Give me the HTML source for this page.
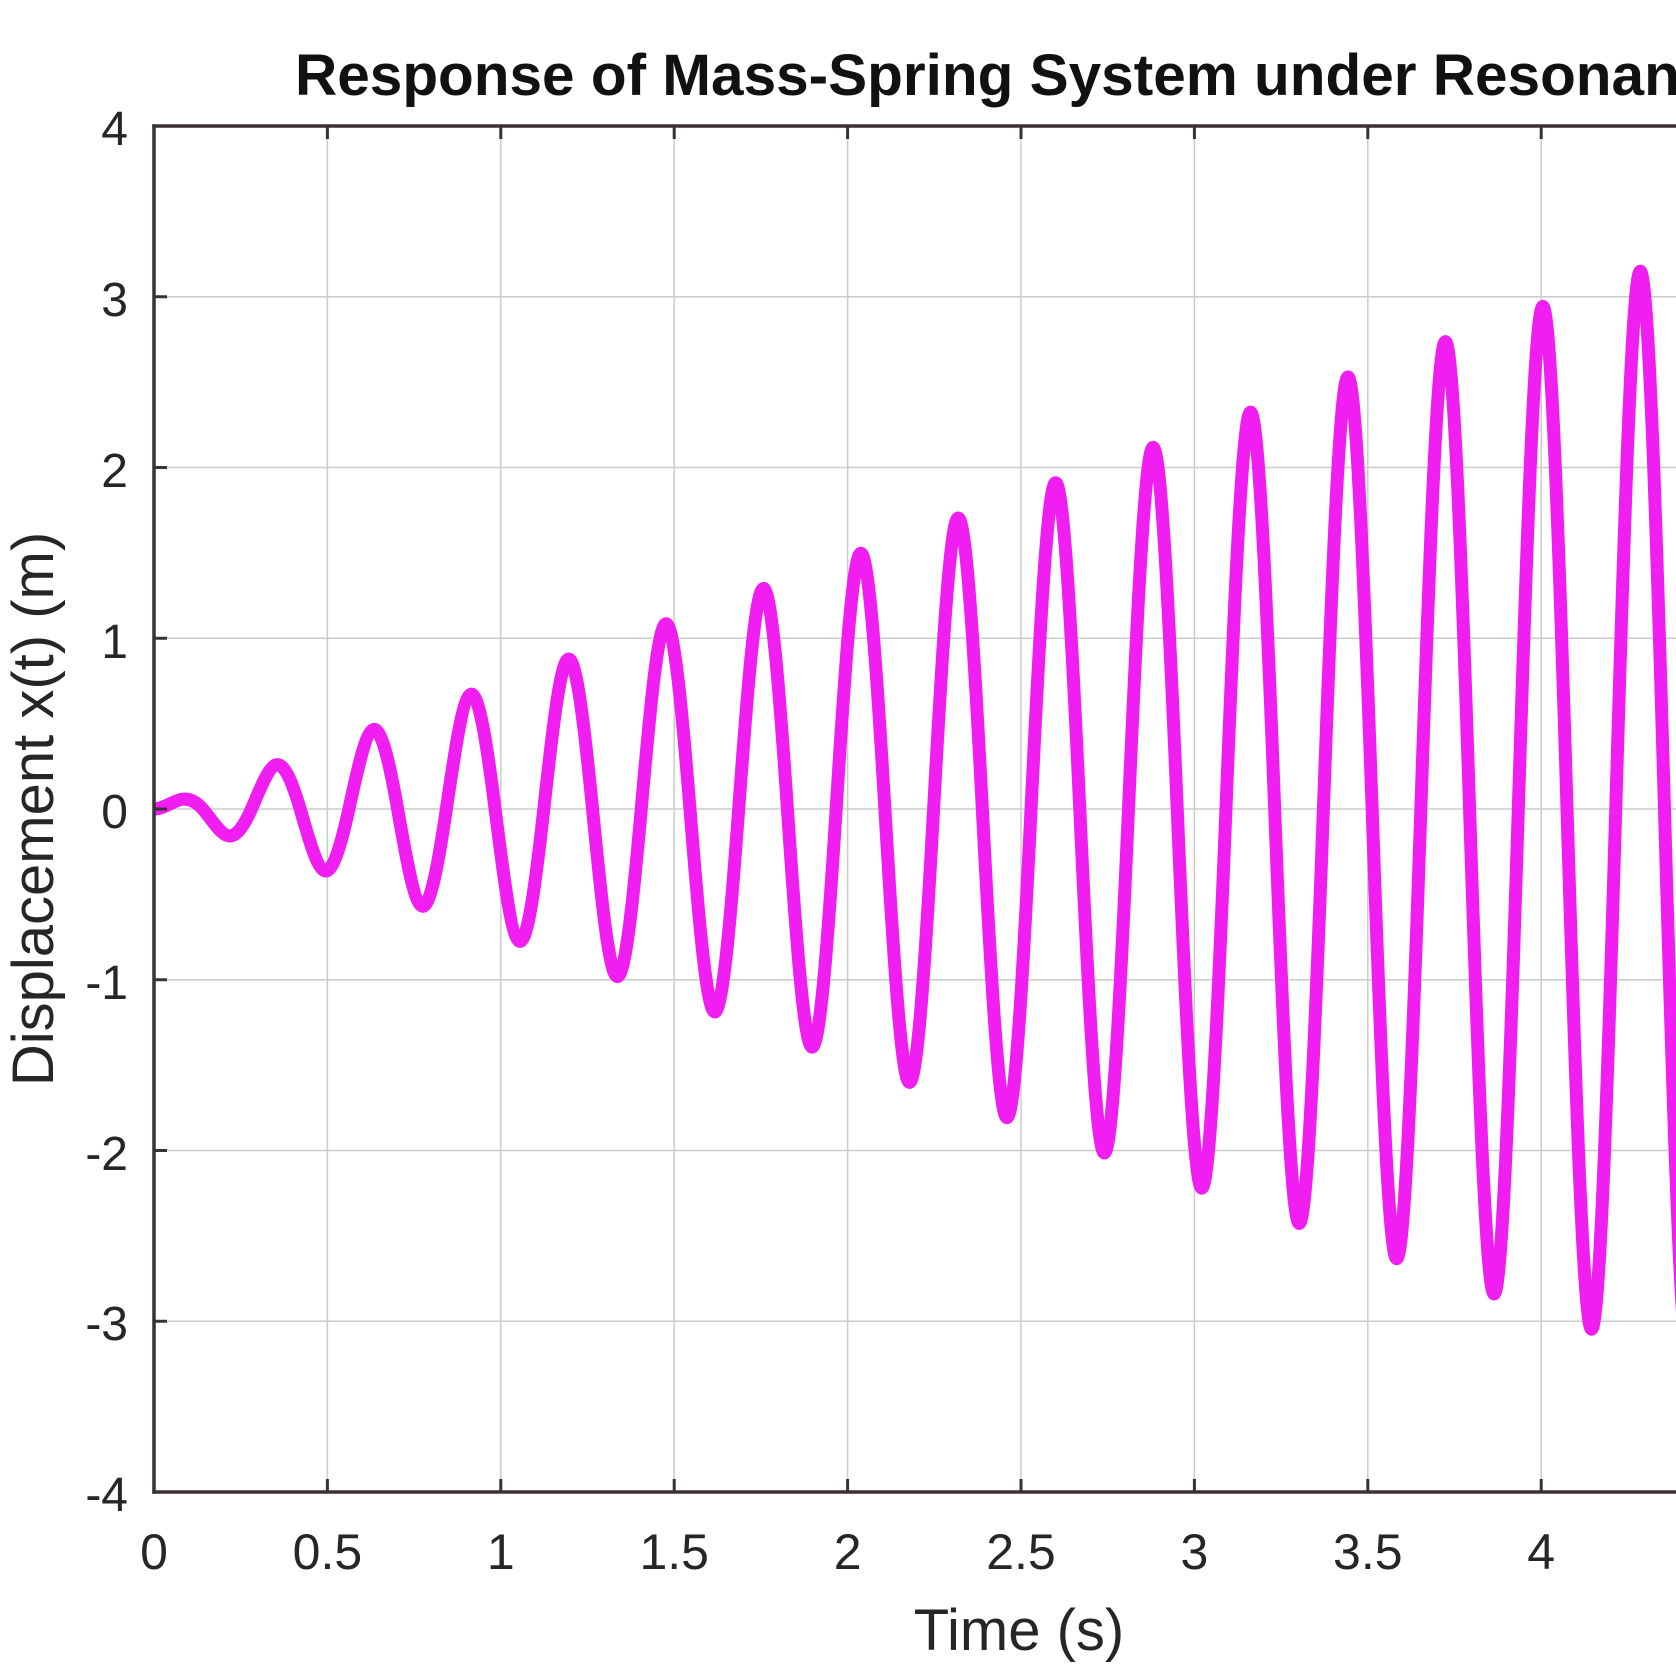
<!DOCTYPE html>
<html>
<head>
<meta charset="utf-8">
<style>
  html, body { margin: 0; padding: 0; background: #ffffff; }
  svg { display: block; }
  text { font-family: "Liberation Sans", Arial, sans-serif; }
</style>
</head>
<body>
<svg width="1676" height="1676" viewBox="0 0 1676 1676" xmlns="http://www.w3.org/2000/svg">
  <rect x="0" y="0" width="1676" height="1676" fill="#ffffff"/>

  <!-- grid -->
  <g stroke="#cbcbcb" stroke-width="1.5" fill="none">
    <line x1="327.4" y1="126" x2="327.4" y2="1492"/>
    <line x1="500.8" y1="126" x2="500.8" y2="1492"/>
    <line x1="674.2" y1="126" x2="674.2" y2="1492"/>
    <line x1="847.6" y1="126" x2="847.6" y2="1492"/>
    <line x1="1021" y1="126" x2="1021" y2="1492"/>
    <line x1="1194.4" y1="126" x2="1194.4" y2="1492"/>
    <line x1="1367.8" y1="126" x2="1367.8" y2="1492"/>
    <line x1="1541.2" y1="126" x2="1541.2" y2="1492"/>
    <line x1="154" y1="296.75" x2="1676" y2="296.75"/>
    <line x1="154" y1="467.5" x2="1676" y2="467.5"/>
    <line x1="154" y1="638.25" x2="1676" y2="638.25"/>
    <line x1="154" y1="809" x2="1676" y2="809"/>
    <line x1="154" y1="979.75" x2="1676" y2="979.75"/>
    <line x1="154" y1="1150.5" x2="1676" y2="1150.5"/>
    <line x1="154" y1="1321.25" x2="1676" y2="1321.25"/>
  </g>

  <!-- curve -->
  <path fill="none" stroke="#f01ef0" stroke-width="13" stroke-linejoin="round" stroke-linecap="butt"
    d="M154,809
c8.121,0 16.241,-5.88 24.3625,-8.82 c8.121,-2.94 16.241,-0.41 24.3625,8.82
c8.121,9.23 16.241,23.51 24.3625,26.45 c8.121,2.94 16.241,-7.98 24.3625,-26.45
c8.121,-18.47 16.241,-41.14 24.3625,-44.08 c8.121,-2.94 16.241,16.38 24.3625,44.08
c8.121,27.70 16.241,58.78 24.3625,61.72 c8.121,2.94 16.241,-24.79 24.3625,-61.72
c8.121,-36.93 16.241,-76.41 24.3625,-79.35 c8.121,-2.94 16.241,33.18 24.3625,79.35
c8.121,46.17 16.241,94.04 24.3625,96.98 c8.121,2.94 16.241,-41.58 24.3625,-96.98
c8.121,-55.40 16.241,-111.67 24.3625,-114.61 c8.121,-2.94 16.241,49.98 24.3625,114.61
c8.121,64.63 16.241,129.31 24.3625,132.25 c8.121,2.94 16.241,-58.39 24.3625,-132.25
c8.121,-73.86 16.241,-146.94 24.3625,-149.88 c8.121,-2.94 16.241,66.78 24.3625,149.88
c8.121,83.10 16.241,164.57 24.3625,167.51 c8.121,2.94 16.241,-75.18 24.3625,-167.51
c8.121,-92.33 16.241,-182.21 24.3625,-185.15 c8.121,-2.94 16.241,83.59 24.3625,185.15
c8.121,101.56 16.241,199.84 24.3625,202.78 c8.121,2.94 16.241,-91.98 24.3625,-202.78
c8.121,-110.80 16.241,-217.47 24.3625,-220.41 c8.121,-2.94 16.241,100.38 24.3625,220.41
c8.121,120.03 16.241,235.10 24.3625,238.04 c8.121,2.94 16.241,-108.78 24.3625,-238.04
c8.121,-129.26 16.241,-252.74 24.3625,-255.68 c8.121,-2.94 16.241,117.18 24.3625,255.68
c8.121,138.50 16.241,270.37 24.3625,273.31 c8.121,2.94 16.241,-125.58 24.3625,-273.31
c8.121,-147.73 16.241,-288.00 24.3625,-290.94 c8.121,-2.94 16.241,133.98 24.3625,290.94
c8.121,156.96 16.241,305.64 24.3625,308.58 c8.121,2.94 16.241,-142.39 24.3625,-308.58
c8.121,-166.19 16.241,-323.27 24.3625,-326.21 c8.121,-2.94 16.241,150.78 24.3625,326.21
c8.121,175.43 16.241,340.90 24.3625,343.84 c8.121,2.94 16.241,-159.18 24.3625,-343.84
c8.121,-184.66 16.241,-358.53 24.3625,-361.47 c8.121,-2.94 16.241,167.58 24.3625,361.47
c8.121,193.89 16.241,376.17 24.3625,379.11 c8.121,2.94 16.241,-175.98 24.3625,-379.11
c8.121,-203.13 16.241,-393.80 24.3625,-396.74 c8.121,-2.94 16.241,184.38 24.3625,396.74
c8.121,212.36 16.241,411.43 24.3625,414.37 c8.121,2.94 16.241,-192.78 24.3625,-414.37
c8.121,-221.59 16.241,-429.07 24.3625,-432.01 c8.121,-2.94 16.241,201.18 24.3625,432.01
c8.121,230.83 16.241,446.70 24.3625,449.64 c8.121,2.94 16.241,-209.58 24.3625,-449.64
c8.121,-240.06 16.241,-464.33 24.3625,-467.27 c8.121,-2.94 16.241,217.98 24.3625,467.27
c8.121,249.29 16.241,481.96 24.3625,484.90 c8.121,2.94 16.241,-226.38 24.3625,-484.90
c8.121,-258.52 16.241,-499.60 24.3625,-502.54 c8.121,-2.94 16.241,234.78 24.3625,502.54
c8.121,267.76 16.241,517.23 24.3625,520.17 c8.121,2.94 16.241,-243.18 24.3625,-520.17
c8.121,-276.99 16.241,-534.86 24.3625,-537.80 c8.121,-2.94 16.241,251.58 24.3625,537.80
c8.121,286.22 16.241,552.50 24.3625,555.44 c8.121,2.94 16.241,-259.98 24.3625,-555.44"/>

  <!-- axes box -->
  <g stroke="#3a3035" stroke-width="3.5" fill="none" stroke-linecap="square">
    <line x1="154" y1="126" x2="1680" y2="126"/>
    <line x1="154" y1="1492" x2="1680" y2="1492"/>
    <line x1="154" y1="126" x2="154" y2="1492"/>
  </g>

  <!-- ticks -->
  <g stroke="#3a3035" stroke-width="3" fill="none">
    <line x1="327.4" y1="1492" x2="327.4" y2="1479"/>
    <line x1="500.8" y1="1492" x2="500.8" y2="1479"/>
    <line x1="674.2" y1="1492" x2="674.2" y2="1479"/>
    <line x1="847.6" y1="1492" x2="847.6" y2="1479"/>
    <line x1="1021" y1="1492" x2="1021" y2="1479"/>
    <line x1="1194.4" y1="1492" x2="1194.4" y2="1479"/>
    <line x1="1367.8" y1="1492" x2="1367.8" y2="1479"/>
    <line x1="1541.2" y1="1492" x2="1541.2" y2="1479"/>
    <line x1="327.4" y1="126" x2="327.4" y2="139"/>
    <line x1="500.8" y1="126" x2="500.8" y2="139"/>
    <line x1="674.2" y1="126" x2="674.2" y2="139"/>
    <line x1="847.6" y1="126" x2="847.6" y2="139"/>
    <line x1="1021" y1="126" x2="1021" y2="139"/>
    <line x1="1194.4" y1="126" x2="1194.4" y2="139"/>
    <line x1="1367.8" y1="126" x2="1367.8" y2="139"/>
    <line x1="1541.2" y1="126" x2="1541.2" y2="139"/>
    <line x1="154" y1="296.75" x2="167" y2="296.75"/>
    <line x1="154" y1="467.5" x2="167" y2="467.5"/>
    <line x1="154" y1="638.25" x2="167" y2="638.25"/>
    <line x1="154" y1="809" x2="167" y2="809"/>
    <line x1="154" y1="979.75" x2="167" y2="979.75"/>
    <line x1="154" y1="1150.5" x2="167" y2="1150.5"/>
    <line x1="154" y1="1321.25" x2="167" y2="1321.25"/>
  </g>

  <!-- y tick labels -->
  <g fill="#262626" font-size="48" text-anchor="end">
    <text x="128" y="145">4</text>
    <text x="128" y="316">3</text>
    <text x="128" y="487">2</text>
    <text x="128" y="658">1</text>
    <text x="128" y="828">0</text>
    <text x="128" y="999">-1</text>
    <text x="128" y="1170">-2</text>
    <text x="128" y="1340">-3</text>
    <text x="128" y="1511">-4</text>
  </g>

  <!-- x tick labels -->
  <g fill="#262626" font-size="50" text-anchor="middle">
    <text x="154" y="1569">0</text>
    <text x="327.4" y="1569">0.5</text>
    <text x="500.8" y="1569">1</text>
    <text x="674.2" y="1569">1.5</text>
    <text x="847.6" y="1569">2</text>
    <text x="1021" y="1569">2.5</text>
    <text x="1194.4" y="1569">3</text>
    <text x="1367.8" y="1569">3.5</text>
    <text x="1541.2" y="1569">4</text>
  </g>

  <!-- axis labels -->
  <text x="1019" y="1650" font-size="58" fill="#262626" text-anchor="middle">Time (s)</text>
  <text transform="translate(53,809) rotate(-90)" x="0" y="0" font-size="58" fill="#262626" text-anchor="middle">Displacement x(t) (m)</text>

  <!-- title -->
  <text x="295" y="95" font-size="58.5" font-weight="bold" fill="#111111">Response of Mass-Spring System under Resonance</text>
</svg>
</body>
</html>
